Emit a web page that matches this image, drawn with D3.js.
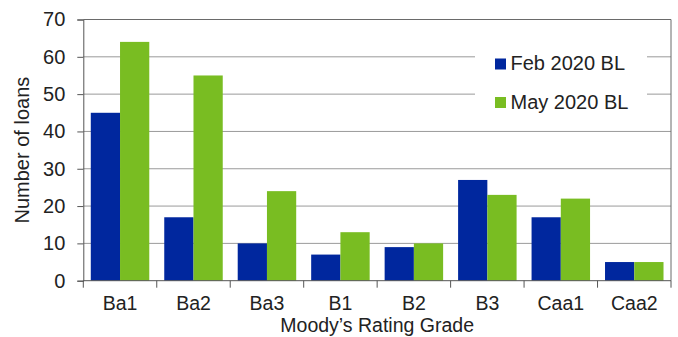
<!DOCTYPE html>
<html>
<head>
<meta charset="utf-8">
<script src="https://cdn.jsdelivr.net/npm/d3@7"></script>
<style>
  html, body { margin: 0; padding: 0; background: #fff; }
  svg { display: block; font-family: "Liberation Sans", Arial, sans-serif; }
</style>
</head>
<body>
<svg id="chart" width="678" height="337"></svg>
<script>
// Rating grades and loan counts per snapshot
const categories = ["Ba1", "Ba2", "Ba3", "B1", "B2", "B3", "Caa1", "Caa2"];
const seriesNames = ["Feb 2020 BL", "May 2020 BL"];
const feb2020 = [45, 17, 10, 7, 9, 27, 17, 5];
const may2020 = [64, 55, 24, 13, 10, 23, 22, 5];
const yTicks = [0, 10, 20, 30, 40, 50, 60, 70];
const colors = ["#00279e", "#79bd22"];

const series = [feb2020, may2020];

const svg = d3.select("#chart");
const plotLeft = 83.3, plotRight = 671, plotTop = 19.5, plotBottom = 280.7;

const x0 = d3.scaleBand().domain(categories).range([plotLeft, plotRight]).padding(0);
const x1 = d3.scaleBand().domain(seriesNames).range([0, x0.bandwidth()])
  .paddingInner(0).paddingOuter(0.256);
const y = d3.scaleLinear().domain([0, 70]).range([plotBottom, plotTop]);

// Horizontal grid lines
svg.append("g").selectAll("line")
  .data(yTicks.filter(d => d > 0 && d < 70))
  .join("line")
  .attr("x1", plotLeft).attr("x2", plotRight)
  .attr("y1", d => y(d)).attr("y2", d => y(d))
  .attr("stroke", "#9a9a9a").attr("stroke-width", 1);

// Legend background hides grid lines behind it
svg.append("rect")
  .attr("x", 475).attr("y", 30).attr("width", 172).attr("height", 90)
  .attr("fill", "#fff");

// Bars
const groups = svg.append("g").selectAll("g")
  .data(categories)
  .join("g")
  .attr("transform", d => `translate(${x0(d)},0)`);

groups.selectAll("rect")
  .data((c, i) => seriesNames.map((s, j) => ({ s, j, v: series[j][i] })))
  .join("rect")
  .attr("x", d => x1(d.s))
  .attr("width", x1.bandwidth())
  .attr("y", d => y(d.v))
  .attr("height", d => y(0) - y(d.v))
  .attr("fill", d => colors[d.j]);

// Frame: top and right edges
svg.append("line").attr("x1", plotLeft).attr("x2", plotRight).attr("y1", plotTop).attr("y2", plotTop)
  .attr("stroke", "#6a6a6a");
svg.append("line").attr("x1", plotRight).attr("x2", plotRight).attr("y1", plotTop).attr("y2", plotBottom)
  .attr("stroke", "#6a6a6a");

// Y axis
const yAxis = svg.append("g")
  .attr("transform", `translate(${plotLeft},0)`)
  .call(d3.axisLeft(y).tickValues(yTicks).tickSize(6).tickPadding(12).tickFormat(d3.format("d")));
yAxis.select(".domain").attr("stroke", "#555");
yAxis.selectAll(".tick line").attr("stroke", "#555");
yAxis.selectAll("text").attr("font-size", 20).attr("fill", "#222")
  .attr("font-family", "Liberation Sans, Arial, sans-serif");

// X axis: ticks sit at band boundaries
const boundaries = categories.map(c => x0(c)).concat([plotRight]);
const xAxisG = svg.append("g");
xAxisG.append("line").attr("x1", plotLeft).attr("x2", plotRight).attr("y1", plotBottom).attr("y2", plotBottom)
  .attr("stroke", "#555");
xAxisG.selectAll("line.tk").data(boundaries).join("line").attr("class", "tk")
  .attr("x1", d => d).attr("x2", d => d).attr("y1", plotBottom).attr("y2", plotBottom + 7)
  .attr("stroke", "#555");
xAxisG.selectAll("text").data(categories).join("text")
  .attr("x", d => x0(d) + x0.bandwidth() / 2)
  .attr("y", 310)
  .attr("text-anchor", "middle")
  .attr("font-size", 19.5).attr("fill", "#222")
  .text(d => d);

// Axis titles
svg.append("text")
  .attr("x", (plotLeft + plotRight) / 2).attr("y", 332)
  .attr("text-anchor", "middle").attr("font-size", 19.5).attr("fill", "#222")
  .text("Moody\u2019s Rating Grade");
svg.append("text")
  .attr("transform", `translate(29,${(plotTop + plotBottom) / 2}) rotate(-90)`)
  .attr("text-anchor", "middle").attr("font-size", 20).attr("fill", "#222")
  .text("Number of loans");

// Legend
const legend = svg.append("g").selectAll("g")
  .data(seriesNames)
  .join("g")
  .attr("transform", (d, i) => `translate(495,${58.5 + i * 38.5})`);
legend.append("rect").attr("width", 11).attr("height", 11)
  .attr("fill", (d, i) => colors[i]);
legend.append("text").attr("x", 15.5).attr("y", 11.5)
  .attr("font-size", 20).attr("fill", "#222")
  .text(d => d);
</script>
</body>
</html>
